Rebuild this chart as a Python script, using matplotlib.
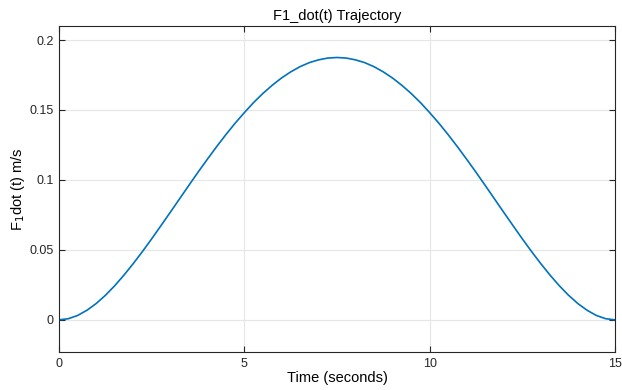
import matplotlib
matplotlib.use("Agg")
import matplotlib.pyplot as plt

# values (every 0.25 s)
t = [0.0, 0.25, 0.5, 0.75, 1.0, 1.25, 1.5, 1.75, 2.0, 2.25, 2.5, 2.75, 3.0, 3.25, 3.5, 3.75,
     4.0, 4.25, 4.5, 4.75, 5.0, 5.25, 5.5, 5.75, 6.0, 6.25, 6.5, 6.75, 7.0, 7.25, 7.5,
     7.75, 8.0, 8.25, 8.5, 8.75, 9.0, 9.25, 9.5, 9.75, 10.0, 10.25, 10.5, 10.75, 11.0,
     11.25, 11.5, 11.75, 12.0, 12.25, 12.5, 12.75, 13.0, 13.25, 13.5, 13.75, 14.0,
     14.25, 14.5, 14.75, 15.0]
f1_dot = [0.0, 0.0008, 0.0031, 0.0068, 0.0116, 0.0175, 0.0243, 0.0319, 0.0401, 0.0488,
          0.0579, 0.0673, 0.0768, 0.0864, 0.0960, 0.1055, 0.1147, 0.1237, 0.1323, 0.1405,
          0.1481, 0.1553, 0.1618, 0.1676, 0.1728, 0.1772, 0.1809, 0.1838, 0.1858, 0.1871,
          0.1875,
          0.1871, 0.1858, 0.1838, 0.1809, 0.1772, 0.1728, 0.1676, 0.1618, 0.1553, 0.1481,
          0.1405, 0.1323, 0.1237, 0.1147, 0.1055, 0.0960, 0.0864, 0.0768, 0.0673, 0.0579,
          0.0488, 0.0401, 0.0319, 0.0243, 0.0175, 0.0116, 0.0068, 0.0031, 0.0008, 0.0]
x_ticks = [0, 5, 10, 15]
y_ticks = [0, 0.05, 0.1, 0.15, 0.2]
y_tick_labels = ["0", "0.05", "0.1", "0.15", "0.2"]

plt.rcParams["font.family"] = ["Liberation Sans", "DejaVu Sans"]

fig = plt.figure(figsize=(6.22, 3.90), dpi=100)
ax = fig.add_axes([0.0949, 0.0974, 0.8938, 0.8359])

ax.plot(t, f1_dot, color="#0072BD", linewidth=1.2)

ax.set_xlim(0, 15)
ax.set_ylim(-0.023, 0.21)
ax.set_xticks(x_ticks)
ax.set_yticks(y_ticks)
ax.set_yticklabels(y_tick_labels)

ax.grid(True, color="#e6e6e6", linewidth=0.8)
ax.set_axisbelow(True)
ax.tick_params(direction="in", top=True, right=True, length=4, width=0.8,
               colors="#262626", labelsize=9, pad=4)
for s in ax.spines.values():
    s.set_color("#262626")
    s.set_linewidth(0.8)

ax.set_title("F1_dot(t) Trajectory", fontsize=10.5, color="#000000", pad=4)
ax.set_xlabel("Time (seconds)", fontsize=10.5, labelpad=1)
ax.set_ylabel("F$_1$dot (t) m/s", fontsize=10.5, labelpad=1.5)

fig.savefig("out.png", dpi=100)
